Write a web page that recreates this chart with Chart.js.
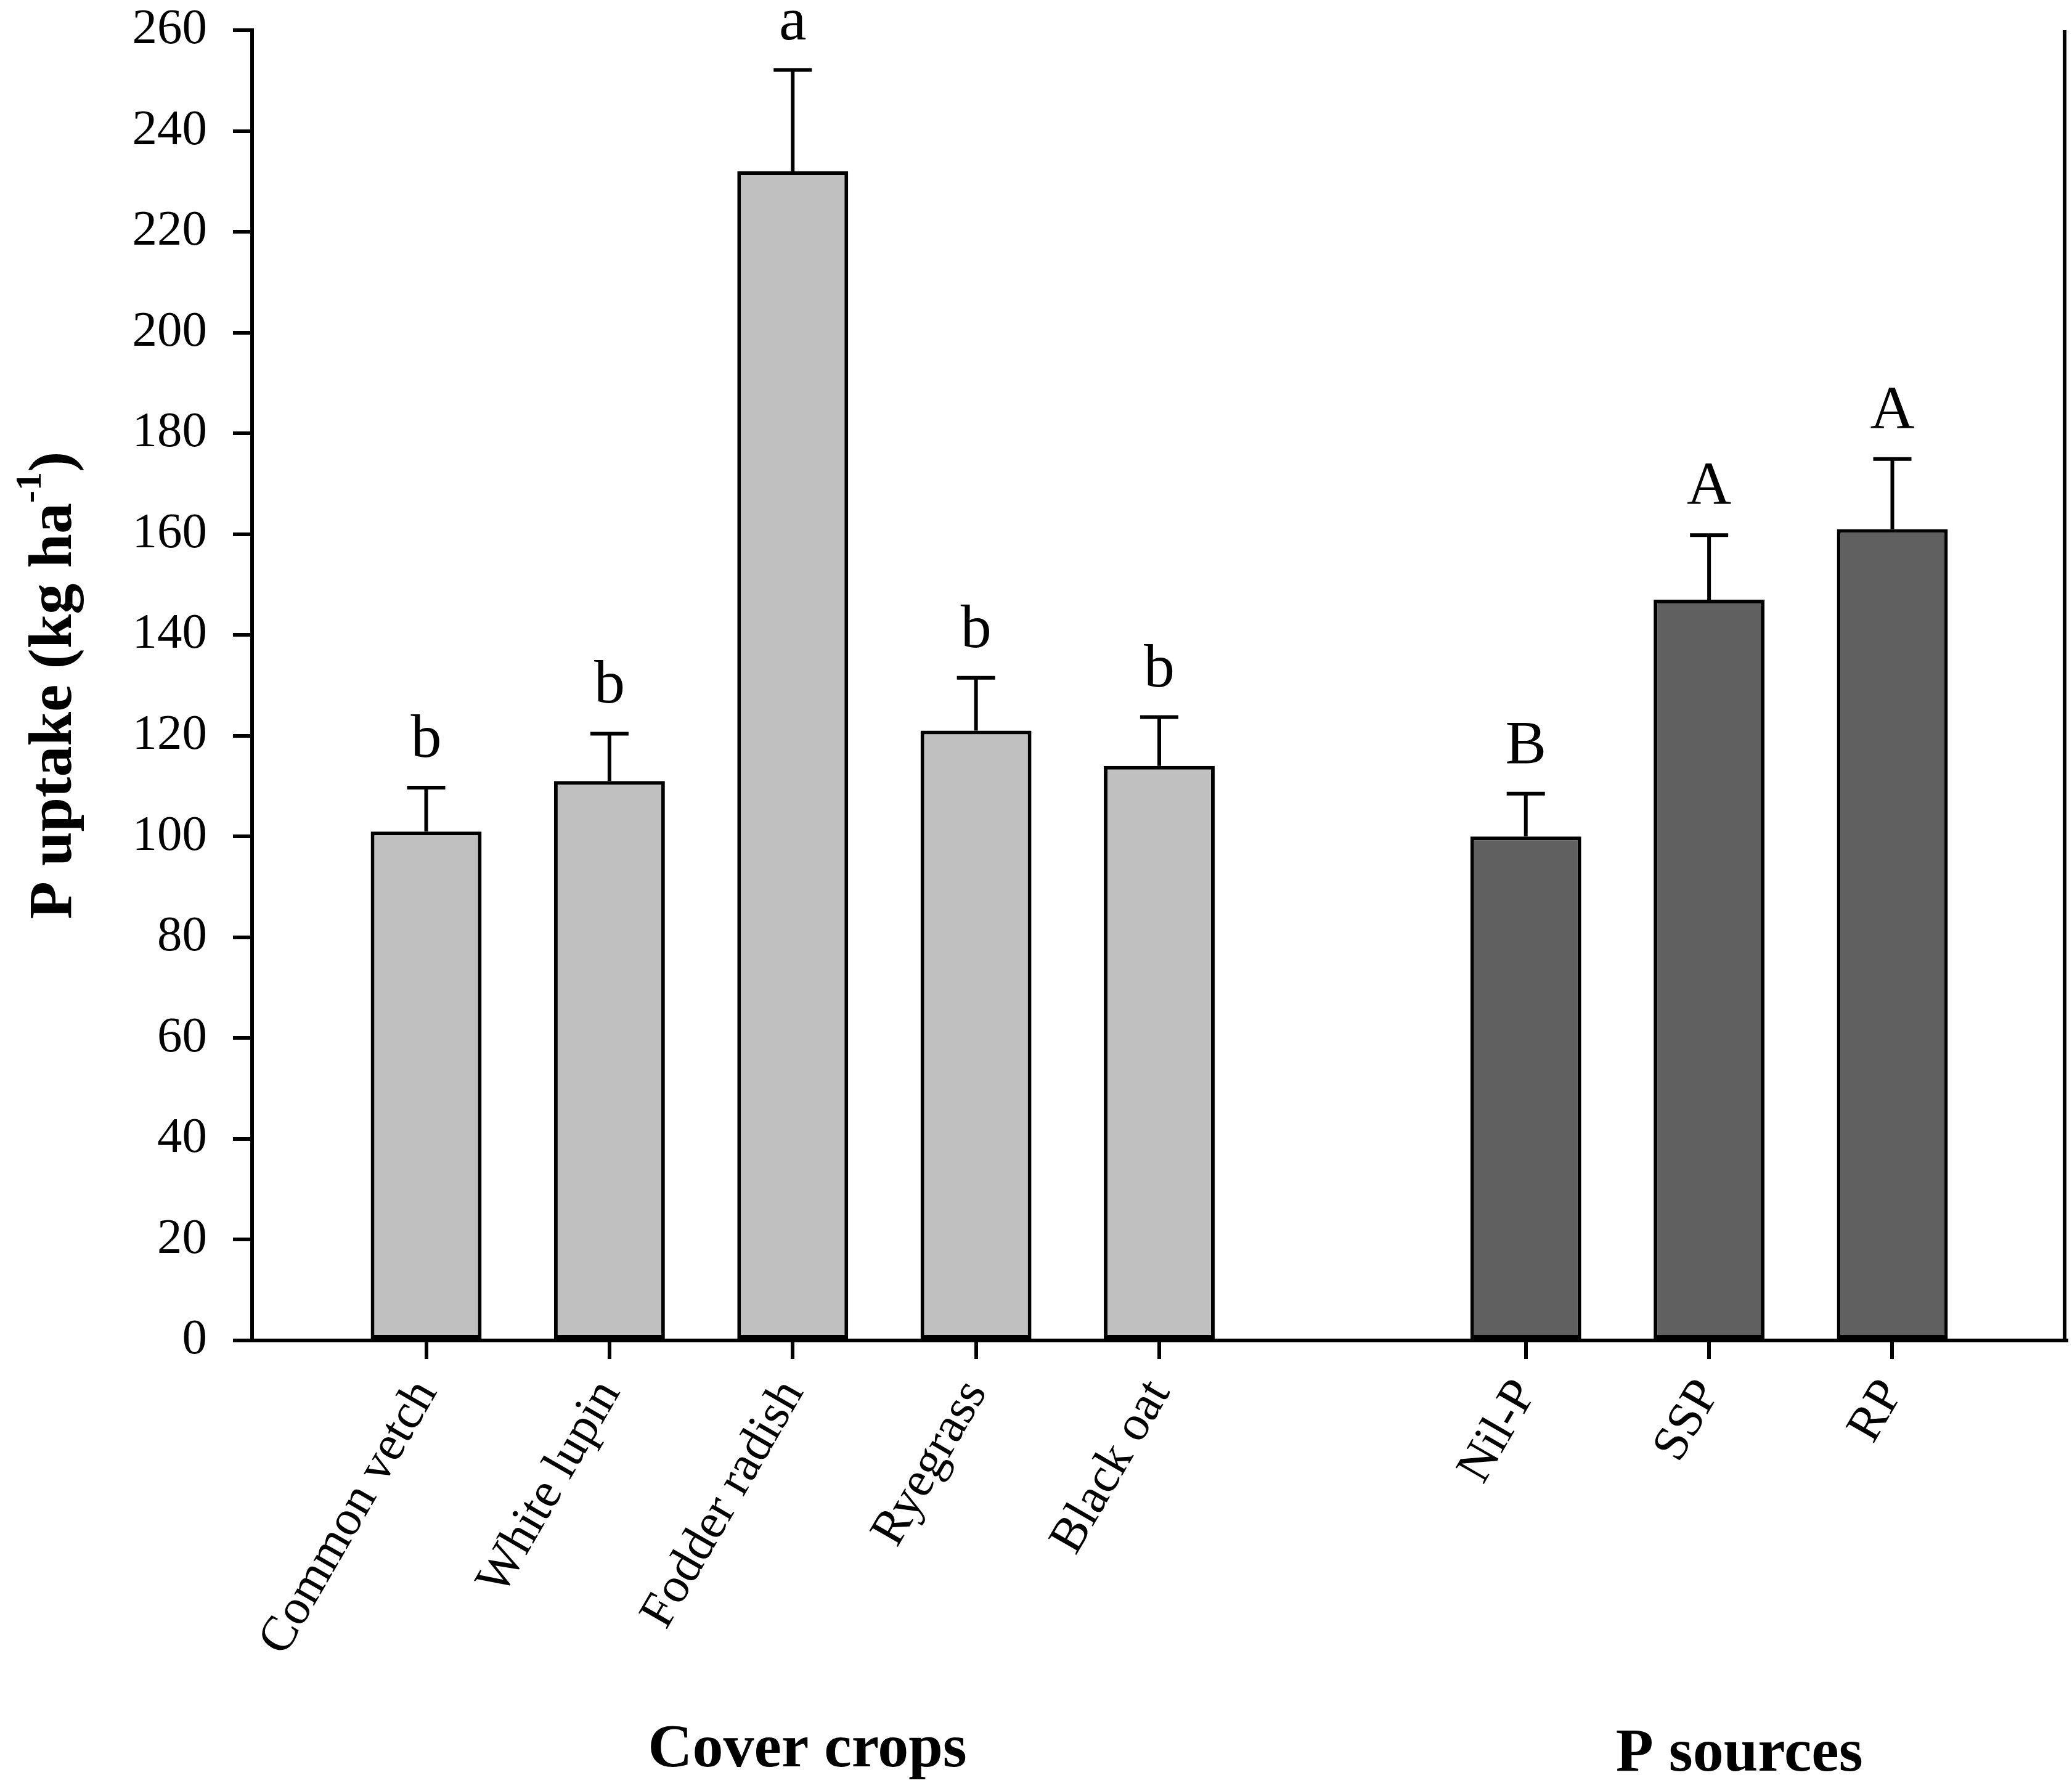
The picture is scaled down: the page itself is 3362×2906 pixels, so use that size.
<!DOCTYPE html>
<html>
<head>
<meta charset="utf-8">
<title>P uptake</title>
<script src="https://cdn.jsdelivr.net/npm/chart.js@4.4.1/dist/chart.umd.min.js"></script>
<style>
  html, body { margin: 0; padding: 0; background: #fff; }
  canvas { display: block; }
</style>
</head>
<body>
<canvas id="chart" width="3362" height="2906"></canvas>
<script>
// values
const coverCrops = ["Common vetch", "White lupin", "Fodder radish", "Ryegrass", "Black oat"];
const coverUptake = [101, 111, 232, 121, 114];
const coverError = [8.7, 9.4, 20.1, 10.5, 9.7];
const coverLetters = ["b", "b", "a", "b", "b"];

const pSources = ["Nil-P", "SSP", "RP"];
const pUptake = [100, 147, 161];
const pError = [8.5, 12.8, 13.9];
const pLetters = ["B", "A", "A"];

const yTicks = [0, 20, 40, 60, 80, 100, 120, 140, 160, 180, 200, 220, 240, 260];

// one empty slot between the two groups
const labels = [...coverCrops, "", ...pSources];
const tickSlots = labels.map((l, i) => (l ? i + 1 : null)).filter(v => v !== null);

const SERIF = "'Liberation Serif', 'Times New Roman', serif";
const LINE = 6;
Chart.defaults.font.family = SERIF;
Chart.defaults.color = "#000";

const extras = {
  id: "extras",
  afterDatasetsDraw(chart) {
    const { ctx, chartArea, scales: { x, y } } = chart;
    const errs = [coverError, pError];
    const lets = [coverLetters, pLetters];
    ctx.save();
    ctx.strokeStyle = "#000";
    ctx.fillStyle = "#000";

    // right frame line
    ctx.lineWidth = LINE;
    ctx.beginPath();
    ctx.moveTo(chartArea.right - LINE / 2, chartArea.top);
    ctx.lineTo(chartArea.right - LINE / 2, chartArea.bottom);
    ctx.stroke();

    // upper error bars and letters
    chart.data.datasets.forEach((ds, di) => {
      chart.getDatasetMeta(di).data.forEach((bar, i) => {
        const top = y.getPixelForValue(ds.data[i].y + errs[di][i]);
        ctx.lineWidth = LINE;
        ctx.beginPath();
        ctx.moveTo(bar.x, bar.y);
        ctx.lineTo(bar.x, top);
        ctx.moveTo(bar.x - 31, top);
        ctx.lineTo(bar.x + 31, top);
        ctx.stroke();
        ctx.font = "100px " + SERIF;
        ctx.textAlign = "center";
        ctx.textBaseline = "alphabetic";
        ctx.fillText(lets[di][i], bar.x, top - 50);
      });
    });

    // y axis title with superscript
    ctx.save();
    ctx.translate(115, (chartArea.top + chartArea.bottom) / 2);
    ctx.rotate(-Math.PI / 2);
    const main = "P uptake (kg ha", sup = "-1", close = ")";
    ctx.font = "bold 100px " + SERIF;
    const w1 = ctx.measureText(main).width;
    const w3 = ctx.measureText(close).width;
    ctx.font = "bold 60px " + SERIF;
    const w2 = ctx.measureText(sup).width;
    let sx = -(w1 + w2 + w3) / 2;
    ctx.textAlign = "left";
    ctx.textBaseline = "alphabetic";
    ctx.font = "bold 100px " + SERIF;
    ctx.fillText(main, sx, 0);
    ctx.font = "bold 60px " + SERIF;
    ctx.fillText(sup, sx + w1, -49);
    ctx.font = "bold 100px " + SERIF;
    ctx.fillText(close, sx + w1 + w2, 0);
    ctx.restore();

    // group titles
    ctx.font = "bold 100px " + SERIF;
    ctx.textAlign = "center";
    ctx.fillText("Cover crops", x.getPixelForValue(3.08), 2866);
    ctx.fillText("P sources", x.getPixelForValue(8.165), 2873);
    ctx.restore();
  }
};

new Chart(document.getElementById("chart"), {
  type: "bar",
  data: {
    datasets: [
      {
        label: "Cover crops",
        data: coverUptake.map((v, i) => ({ x: i + 1, y: v })),
        backgroundColor: "#c0c0c0"
      },
      {
        label: "P sources",
        data: pUptake.map((v, i) => ({ x: coverCrops.length + 2 + i, y: v })),
        backgroundColor: "#606060"
      }
    ]
  },
  options: {
    responsive: false,
    animation: false,
    devicePixelRatio: 1,
    layout: { padding: { top: 49, right: 9, bottom: 0, left: 0 } },
    datasets: {
      bar: {
        grouped: false,
        barPercentage: 0.605,
        categoryPercentage: 1,
        borderColor: "#000",
        borderWidth: LINE,
        borderSkipped: false
      }
    },
    plugins: {
      legend: { display: false },
      tooltip: { enabled: false }
    },
    scales: {
      x: {
        type: "linear",
        offset: false,
        min: 0.05,
        max: 9.95,
        afterBuildTicks: s => { s.ticks = tickSlots.map(v => ({ value: v })); },
        afterFit: s => { s.height = 731; s.paddingLeft = 0; s.paddingRight = 0; },
        grid: { offset: false, drawOnChartArea: false, color: "#000", lineWidth: LINE, tickLength: 30 },
        border: { display: true, color: "#000", width: LINE },
        ticks: {
          autoSkip: false,
          minRotation: 60,
          maxRotation: 60,
          padding: 6,
          font: { size: 81, lineHeight: 1.8 },
          callback: v => labels[v - 1]
        }
      },
      y: {
        min: 0,
        max: 260,
        afterBuildTicks: s => { s.ticks = yTicks.map(v => ({ value: v })); },
        afterFit: s => { s.width = 409; s.paddingTop = 0; s.paddingBottom = 0; },
        grid: { drawOnChartArea: false, color: "#000", lineWidth: LINE, tickLength: 31 },
        border: { display: true, color: "#000", width: LINE },
        ticks: { padding: 42, font: { size: 81 } }
      }
    }
  },
  plugins: [extras]
});
</script>
</body>
</html>
